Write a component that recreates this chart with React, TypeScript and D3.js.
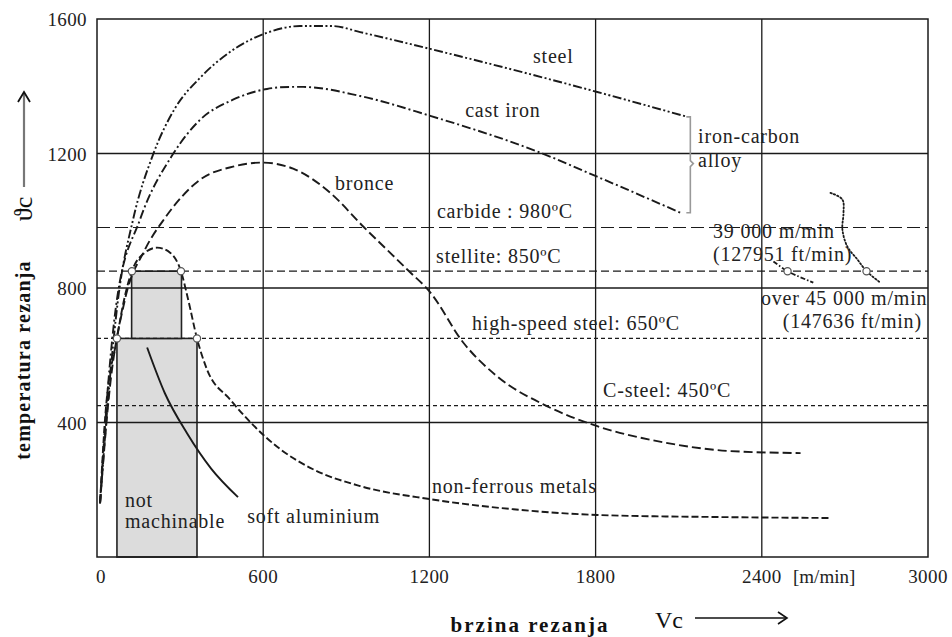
import { scaleLinear, line, curveCatmullRom, curveMonotoneX } from "d3";

// brzina rezanja Vc [m/min] vs temperatura rezanja [°C]
const xTicks = [0, 600, 1200, 1800, 2400, 3000];
const yTicks = [400, 800, 1200, 1600];

const steel: [number, number][] = [
  [11, 160], [40, 469], [76, 766], [130, 1003], [202, 1196], [282, 1335], [372, 1425], [480, 1502],
  [610, 1558], [733, 1579], [852, 1579], [950, 1561], [1203, 1511], [1806, 1383], [2131, 1309],
];
const castIron: [number, number][] = [
  [11, 160], [36, 469], [72, 766], [155, 1003], [275, 1199], [372, 1300], [491, 1360],
  [614, 1392], [697, 1398], [744, 1398], [950, 1371], [1203, 1312], [1611, 1199], [1806, 1131], [2106, 1024],
];
const bronce: [number, number][] = [
  [11, 160], [42, 469], [101, 766], [173, 914], [246, 1009], [372, 1122], [491, 1161], [596, 1173],
  [708, 1155], [842, 1083], [961, 983], [1120, 855], [1203, 787], [1322, 638], [1445, 537],
  [1626, 448], [1806, 389], [2045, 341], [2287, 315], [2540, 309],
];
const nonFerrous: [number, number][] = [
  [11, 160], [29, 410], [72, 650], [98, 766], [126, 850], [173, 905], [217, 920], [264, 905],
  [303, 850], [329, 766], [361, 650], [397, 558], [480, 469], [661, 321], [780, 261], [950, 211],
  [1203, 172], [1503, 142], [1806, 125], [2225, 119], [2648, 116],
];
const softAluminium: [number, number][] = [
  [181, 623], [245, 487], [325, 368], [412, 263], [509, 178],
];
const speed39000: [number, number][] = [[2442, 879], [2493, 850], [2586, 816]];
const speed45000: [number, number][] = [
  [2648, 1083], [2691, 1063], [2695, 1024], [2691, 974], [2709, 923], [2745, 885], [2778, 850], [2828, 816],
];

// tool material limits
const limitValues = [980, 850, 650, 450];
const limitLabels = ["carbide : 980ºC", "stellite: 850ºC", "high-speed steel: 650ºC", "C-steel: 450ºC"];
const limitLabelAt = [[1227, 1008], [1224, 874], [1354, 675], [1827, 476]];

// not machinable zones  [x0, x1, y0, y1]
const zones = [[72, 361, 0, 650], [125, 305, 650, 850]];
const markers: [number, number][] = [[126, 850], [303, 850], [72, 650], [361, 650], [2493, 850], [2778, 850]];

const bracket = { x: 2142, top: 1309, mid: 1170, bottom: 1024 };

const notes: { t: string; x: number; y: number; anchor?: string }[] = [
  { t: "steel", x: 1574, y: 1469 },
  { t: "cast iron", x: 1329, y: 1309 },
  { t: "bronce", x: 859, y: 1090 },
  { t: "iron-carbon", x: 2170, y: 1231 },
  { t: "alloy", x: 2170, y: 1160 },
  { t: "39 000 m/min", x: 2224, y: 949 },
  { t: "(127951 ft/min)", x: 2224, y: 880 },
  { t: "over 45 000 m/min", x: 2397, y: 749 },
  { t: "(147636 ft/min)", x: 2978, y: 681, anchor: "end" },
  { t: "non-ferrous metals", x: 1209, y: 190 },
  { t: "soft aluminium", x: 542, y: 101 },
  { t: "not", x: 101, y: 149 },
  { t: "machinable", x: 101, y: 86 },
];

export default function App() {
  const W = 952, H = 637;
  const x = scaleLinear().domain([0, 3000]).range([97, 928]);
  const y = scaleLinear().domain([0, 1600]).range([557, 19]);
  const path = line<[number, number]>()
    .x((d) => x(d[0]))
    .y((d) => y(d[1]))
    .curve(curveMonotoneX);
  const loose = line<[number, number]>()
    .x((d) => x(d[0]))
    .y((d) => y(d[1]))
    .curve(curveCatmullRom.alpha(0.5));

  const font = "'Liberation Serif', 'Times New Roman', serif";
  const ink = "#1a1a1a";
  const limitDash = ["13,5", "8,4", "4,3", "4,3"];

  return (
    <svg width={W} height={H} style={{ position: "absolute", left: 0, top: 0, background: "#fff" }} fontFamily={font}>
      {/* not machinable zones */}
      {zones.map((z, i) => (
        <rect key={i} x={x(z[0])} y={y(z[3])} width={x(z[1]) - x(z[0])} height={y(z[2]) - y(z[3])}
          fill="#dcdcdc" stroke="#222" strokeWidth={1.6} />
      ))}

      {/* grid */}
      {xTicks.slice(1, -1).map((v) => (
        <line key={"gx" + v} x1={x(v)} x2={x(v)} y1={y(0)} y2={y(1600)} stroke={ink} strokeWidth={1.3} />
      ))}
      {yTicks.slice(0, -1).map((v) => (
        <line key={"gy" + v} x1={x(0)} x2={x(3000)} y1={y(v)} y2={y(v)} stroke={ink} strokeWidth={1.3} />
      ))}
      <rect x={x(0)} y={y(1600)} width={x(3000) - x(0)} height={y(0) - y(1600)} fill="none" stroke={ink} strokeWidth={1.5} />

      {/* limit lines */}
      {limitValues.map((v, i) => (
        <g key={"l" + v}>
          <line x1={x(0)} x2={x(3000)} y1={y(v)} y2={y(v)} stroke={ink} strokeWidth={1.2} strokeDasharray={limitDash[i]} />
          <text x={x(limitLabelAt[i][0])} y={y(limitLabelAt[i][1])} fontSize={20} letterSpacing={0.8} fill="#222">{limitLabels[i]}</text>
        </g>
      ))}

      {/* curves */}
      <path d={path(steel) || ""} fill="none" stroke={ink} strokeWidth={1.9} strokeDasharray="9,2.5,2,2.5,2,2.5" />
      <path d={path(castIron) || ""} fill="none" stroke={ink} strokeWidth={1.9} strokeDasharray="9,3,2,3" />
      <path d={path(bronce) || ""} fill="none" stroke={ink} strokeWidth={1.9} strokeDasharray="9,4" />
      <path d={path(nonFerrous) || ""} fill="none" stroke={ink} strokeWidth={1.9} strokeDasharray="7,3" />
      <path d={path(softAluminium) || ""} fill="none" stroke={ink} strokeWidth={1.9} />
      <path d={loose(speed39000) || ""} fill="none" stroke={ink} strokeWidth={1.8} strokeDasharray="5,2,1.5,2" />
      <path d={loose(speed45000) || ""} fill="none" stroke={ink} strokeWidth={1.8} strokeDasharray="1.4,2.2" strokeLinecap="round" />

      {/* iron-carbon bracket */}
      <path
        d={`M${x(bracket.x) - 4},${y(bracket.top)} H${x(bracket.x)} V${y(bracket.mid) - 3} l3,3 l-3,3 V${y(bracket.bottom)} h-4`}
        fill="none" stroke="#999" strokeWidth={1.6} />

      {markers.map((m, i) => (
        <circle key={"m" + i} cx={x(m[0])} cy={y(m[1])} r={3.6} fill="#fff" stroke="#555" strokeWidth={1.2} />
      ))}

      {notes.map((n, i) => (
        <text key={"n" + i} x={x(n.x)} y={y(n.y)} fontSize={20} letterSpacing={0.8} fill="#222" textAnchor={n.anchor || "start"}>{n.t}</text>
      ))}

      {/* axes labels */}
      {xTicks.map((v) => (
        <text key={"tx" + v} x={x(v) + (v === 0 ? 4 : 0)} y={583} fontSize={19} letterSpacing={0.4} textAnchor="middle" fill="#222">{v}</text>
      ))}
      <text x={793} y={583} fontSize={19} fill="#222">[m/min]</text>
      {yTicks.map((v) => (
        <text key={"ty" + v} x={87} y={y(v) + 7} fontSize={19} letterSpacing={0.4} textAnchor="end" fill="#222">{v}</text>
      ))}

      <text x={530} y={632} fontSize={21} fontWeight="bold" letterSpacing={2} textAnchor="middle" fill="#111">brzina rezanja</text>
      <text x={655} y={628} fontSize={24} fill="#111">Vc</text>
      <line x1={695} x2={786} y1={618} y2={618} stroke="#111" strokeWidth={1.4} />
      <path d="M778,612 L787,618 L778,624" fill="none" stroke="#111" strokeWidth={1.6} />

      <text transform="translate(30,360) rotate(-90)" fontSize={20} fontWeight="bold" letterSpacing={1.2} textAnchor="middle" fill="#111">
        temperatura rezanja
      </text>
      <text transform="translate(32,209) rotate(-90)" fontSize={26} textAnchor="middle" fill="#111">ϑc</text>
      <line x1={24} x2={24} y1={187} y2={94} stroke="#777" strokeWidth={2.2} />
      <path d="M18,102 L24,92 L30,102" fill="none" stroke="#111" strokeWidth={1.8} />
    </svg>
  );
}
